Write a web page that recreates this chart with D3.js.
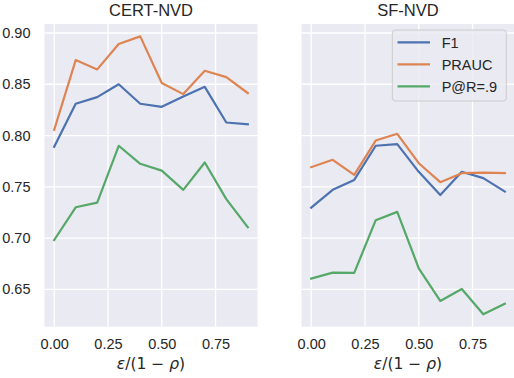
<!DOCTYPE html>
<html>
<head>
<meta charset="utf-8">
<script src="https://cdn.jsdelivr.net/npm/d3@7"></script>
<style>
  body { margin: 0; background: #fff; }
  text { font-family: "Liberation Sans", Arial, sans-serif; fill: #262626; }
</style>
</head>
<body>
<svg id="chart" width="514" height="378"></svg>
<script>
// x values (eps / (1 - rho))
const xValues = [0.0, 0.1, 0.2, 0.3, 0.4, 0.5, 0.6, 0.7, 0.8, 0.9];
const xTicks = [0.0, 0.25, 0.5, 0.75];
const yTicks = [0.65, 0.70, 0.75, 0.80, 0.85, 0.90];

const panelTitles = ['CERT-NVD', 'SF-NVD'];
const seriesNames = ['F1', 'PRAUC', 'P@R=.9'];
const seriesColors = ['#4c72b0', '#dd8452', '#55a868'];

// CERT-NVD
const certF1 = [0.789, 0.831, 0.8375, 0.850, 0.831, 0.828, 0.838, 0.8475, 0.8127, 0.811];
const certPrauc = [0.8056, 0.8736, 0.8645, 0.8893, 0.8967, 0.8512, 0.8404, 0.8632, 0.857, 0.8414];
const certPr9 = [0.698, 0.730, 0.7346, 0.790, 0.7724, 0.7658, 0.747, 0.7737, 0.738, 0.7105];

// SF-NVD
const sfF1 = [0.7297, 0.747, 0.7567, 0.790, 0.7916, 0.7646, 0.742, 0.7646, 0.7584, 0.7453];
const sfPrauc = [0.7691, 0.7763, 0.7616, 0.7951, 0.8017, 0.773, 0.7545, 0.7633, 0.7639, 0.7633];
const sfPr9 = [0.6604, 0.6662, 0.666, 0.7174, 0.7255, 0.6705, 0.6386, 0.6503, 0.6256, 0.636];

const panels = [
  { title: panelTitles[0], series: [certF1, certPrauc, certPr9], left: 44.5 },
  { title: panelTitles[1], series: [sfF1, sfPrauc, sfPr9], left: 301.5 }
];

const panelW = 213;
const plotTop = 24, plotBottom = 326.7;

const svg = d3.select('#chart');

const y = d3.scaleLinear()
  .domain([0.6135, 0.9088])
  .range([plotBottom, plotTop]);

panels.forEach((p, pi) => {
  const x = d3.scaleLinear()
    .domain([-0.045, 0.945])
    .range([p.left, p.left + panelW]);

  const g = svg.append('g');

  // background
  g.append('rect')
    .attr('x', p.left).attr('y', plotTop)
    .attr('width', panelW).attr('height', plotBottom - plotTop)
    .attr('fill', '#eaeaf2');

  // grid
  g.selectAll('.hgrid').data(yTicks).join('line')
    .attr('x1', p.left).attr('x2', p.left + panelW)
    .attr('y1', d => y(d)).attr('y2', d => y(d))
    .attr('stroke', '#fff').attr('stroke-width', 1.3);
  g.selectAll('.vgrid').data(xTicks).join('line')
    .attr('x1', d => x(d)).attr('x2', d => x(d))
    .attr('y1', plotTop).attr('y2', plotBottom)
    .attr('stroke', '#fff').attr('stroke-width', 1.3);

  // x axis
  const xAxis = g.append('g')
    .attr('transform', `translate(0,${plotBottom})`)
    .call(d3.axisBottom(x).tickValues(xTicks).tickFormat(d3.format('.2f')).tickSize(0).tickPadding(12));
  xAxis.select('.domain').remove();
  xAxis.selectAll('text').style('font-size', '14.5px').attr('fill', '#262626')
    .style('font-family', '"Liberation Sans", Arial, sans-serif');

  // y axis (labels only on the first panel)
  if (pi === 0) {
    const yAxis = g.append('g')
      .attr('transform', `translate(${p.left},0)`)
      .call(d3.axisLeft(y).tickValues(yTicks).tickFormat(d3.format('.2f')).tickSize(0).tickPadding(14));
    yAxis.select('.domain').remove();
    yAxis.selectAll('text').style('font-size', '14.5px').attr('fill', '#262626')
      .style('font-family', '"Liberation Sans", Arial, sans-serif');
  }

  // lines
  const line = d3.line()
    .x((d, i) => x(xValues[i]))
    .y(d => y(d));

  p.series.forEach((s, si) => {
    g.append('path')
      .datum(s)
      .attr('fill', 'none')
      .attr('stroke', seriesColors[si])
      .attr('stroke-width', 2.2)
      .attr('stroke-linejoin', 'round')
      .attr('stroke-linecap', 'square')
      .attr('d', line);
  });

  // title
  g.append('text')
    .attr('x', p.left + panelW / 2)
    .attr('y', 15.5)
    .attr('text-anchor', 'middle')
    .style('font-size', '16.5px')
    .text(p.title);

  // x label
  const xl = g.append('text')
    .attr('x', p.left + panelW / 2)
    .attr('y', 369)
    .attr('text-anchor', 'middle')
    .style('font-size', '15.5px')
    .style('font-family', '"DejaVu Sans", sans-serif');
  xl.append('tspan').style('font-style', 'italic').text('ε');
  xl.append('tspan').text('/(1 − ');
  xl.append('tspan').style('font-style', 'italic').text('ρ');
  xl.append('tspan').text(')');

  // legend on second panel
  if (pi === 1) {
    const lg = svg.append('g');
    lg.append('rect')
      .attr('x', 392.3).attr('y', 30)
      .attr('width', 114).attr('height', 71)
      .attr('rx', 3)
      .attr('fill', '#eaeaf2').attr('fill-opacity', 0.8)
      .attr('stroke', '#cccccc').attr('stroke-width', 1);
    seriesNames.forEach((name, i) => {
      const ly = 42.3 + i * 22;
      lg.append('line')
        .attr('x1', 397.5).attr('x2', 430)
        .attr('y1', ly).attr('y2', ly)
        .attr('stroke', seriesColors[i]).attr('stroke-width', 2.2);
      lg.append('text')
        .attr('x', 441.7).attr('y', ly + 5.3)
        .style('font-size', '14.5px')
        .text(name);
    });
  }
});
</script>
</body>
</html>
